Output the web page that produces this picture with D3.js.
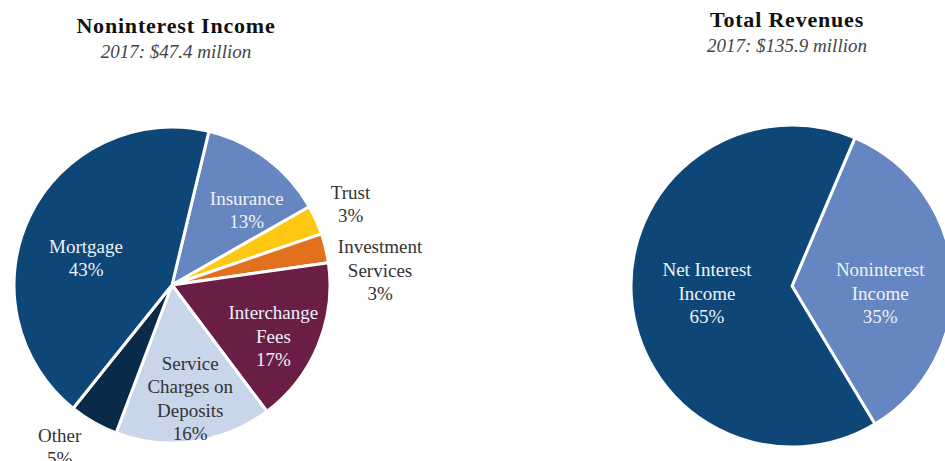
<!DOCTYPE html>
<html>
<head>
<meta charset="utf-8">
<script src="https://cdn.jsdelivr.net/npm/d3@7"></script>
<style>
  body { margin: 0; background: #fff; }
  text, tspan { font-family: 'Liberation Serif', 'Times New Roman', Times, serif; }
</style>
</head>
<body>
<div class="chart"></div>
<script>
// left pie: noninterest income breakdown (clockwise from Insurance)
const leftLabels = [['Insurance'], ['Trust'], ['Investment', 'Services'], ['Interchange', 'Fees'],
  ['Service', 'Charges on', 'Deposits'], ['Other'], ['Mortgage']];
const leftValues = [13, 3, 3, 17, 16, 5, 43];

// right pie: total revenues
const rightLabels = [['Noninterest', 'Income'], ['Net Interest', 'Income']];
const rightValues = [35, 65];

const titles = ['Noninterest Income', 'Total Revenues'];
const subtitles = ['2017: $47.4 million', '2017: $135.9 million'];

const leftColors = ['#6586c0', '#fdc80f', '#e2711d', '#6a1e46', '#c9d5ea', '#0a2a4a', '#0d4677'];
const rightColors = ['#6586c0', '#0d4677'];
const leftText = ['#eef2f8', '#333', '#333', '#eef2f8', '#333', '#333', '#eef2f8'];
const rightText = ['#eef2f8', '#eef2f8'];

// label placement: radius factor and angle nudge (deg) from slice mid-angle
const leftLabelPos = [
  { k: 0.67, da: 8 }, { k: 1.24, da: 0 }, { k: 1.32, da: 9.5 }, { k: 0.72, da: 4.5 },
  { k: 0.73, da: -1 }, { k: 1.25, da: 5 }, { k: 0.57, da: -8.7 }
];
const rightLabelPos = [{ k: 0.55, da: 9 }, { k: 0.53, da: -1 }];

const width = 945;
const height = 461;
const rad = Math.PI / 180;
const serif = "'Liberation Serif', 'Times New Roman', Times, serif";

const svg = d3
  .select('.chart')
  .append('svg')
  .attr('width', width)
  .attr('height', height);

function drawTitle(cx, y, title, sub) {
  svg
    .append('text')
    .attr('x', cx)
    .attr('y', y)
    .attr('text-anchor', 'middle')
    .attr('font-family', serif)
    .style('font-size', '22px')
    .style('font-weight', 'bold')
    .style('letter-spacing', '0.8px')
    .attr('fill', '#111')
    .text(title);
  svg
    .append('text')
    .attr('x', cx)
    .attr('y', y + 25)
    .attr('text-anchor', 'middle')
    .attr('font-family', serif)
    .style('font-size', '19px')
    .style('font-style', 'italic')
    .attr('fill', '#444')
    .text(sub);
}

function drawPie(cx, cy, r, start, values, labels, colors, textColors, labelPos) {
  const pie = d3
    .pie()
    .sort(null)
    .startAngle(start * rad)
    .endAngle(start * rad + 2 * Math.PI);
  const arcs = pie(values);
  const arc = d3.arc().innerRadius(0).outerRadius(r);

  const g = svg.append('g').attr('transform', 'translate(' + cx + ',' + cy + ')');

  g.selectAll('path')
    .data(arcs)
    .enter()
    .append('path')
    .attr('d', arc)
    .attr('fill', (d, i) => colors[i])
    .attr('stroke', '#fff')
    .attr('stroke-width', 3)
    .attr('stroke-linejoin', 'round');

  const fs = 19;
  const lh = 23.5;
  const lbl = g
    .selectAll('.label')
    .data(arcs)
    .enter()
    .append('text')
    .attr('class', 'label')
    .attr('text-anchor', 'middle')
    .attr('font-family', serif)
    .style('font-size', fs + 'px')
    .attr('fill', (d, i) => textColors[i])
    .attr('transform', (d, i) => {
      const p = labelPos[i];
      const a = (d.startAngle + d.endAngle) / 2 + p.da * rad;
      const c = d3.arc().innerRadius(r * p.k).outerRadius(r * p.k).centroid({ startAngle: a, endAngle: a });
      return 'translate(' + c[0] + ',' + c[1] + ')';
    });

  lbl.each(function(d, i) {
    const lines = labels[i].concat([d.value + '%']);
    const n = lines.length;
    d3.select(this)
      .selectAll('tspan')
      .data(lines)
      .enter()
      .append('tspan')
      .attr('x', 0)
      .attr('y', (t, j) => (j - (n - 1) / 2) * lh + fs * 0.33)
      .text(t => t);
  });
}

drawTitle(176, 33, titles[0], subtitles[0]);
drawTitle(787, 27, titles[1], subtitles[1]);

drawPie(172, 285, 158, 13.5, leftValues, leftLabels, leftColors, leftText, leftLabelPos);
drawPie(792, 286, 161, 23, rightValues, rightLabels, rightColors, rightText, rightLabelPos);
</script>
</body>
</html>
